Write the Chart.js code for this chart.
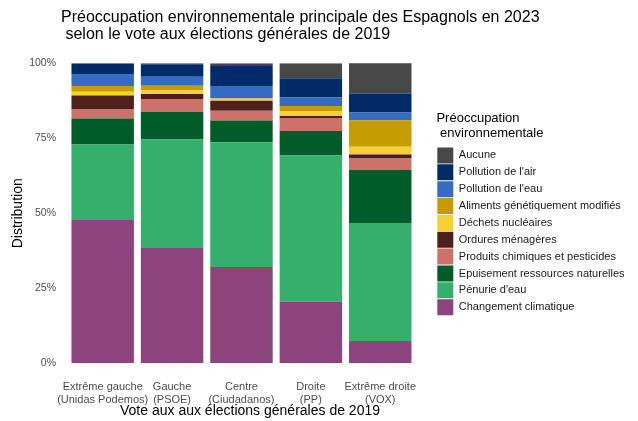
<!DOCTYPE html>
<html>
<head>
<meta charset="utf-8">
<script src="https://cdn.jsdelivr.net/npm/chart.js@4"></script>
<style>
html,body{margin:0;padding:0;background:#fff;}
#wrap{width:638px;height:421px;position:relative;}
</style>
</head>
<body>
<div id="wrap"><canvas id="c" width="638" height="421"></canvas></div>
<script>
// Categories (x axis)
const categories = [
  ["Extrême gauche", "(Unidas Podemos)"],
  ["Gauche", "(PSOE)"],
  ["Centre", "(Ciudadanos)"],
  ["Droite", "(PP)"],
  ["Extrême droite", "(VOX)"]
];
// Series values (% of each vote group), stacked bottom to top
const changementClimatique = [47.8, 38.4, 32.1, 20.5, 7.4];
const penurieEau           = [25.1, 36.2, 41.6, 48.8, 39.4];
const epuisementRessources = [8.7, 9.2, 7.2, 8.1, 17.7];
const produitsChimiques    = [3.0, 4.3, 3.3, 4.4, 3.8];
const orduresMenageres     = [4.7, 1.7, 3.3, 0.6, 1.3];
const dechetsNucleaires    = [1.2, 1.1, 0.8, 1.7, 2.6];
const alimentsOGM          = [1.9, 1.6, 0.0, 1.7, 8.8];
const pollutionEau         = [4.0, 3.0, 4.1, 2.8, 2.6];
const pollutionAir         = [3.6, 4.2, 6.7, 6.4, 6.3];
const aucune               = [0.0, 0.3, 0.9, 5.0, 10.2];
// Tick labels
const yTicks = [0, 25, 50, 75, 100];

const FONT = "'Liberation Sans', Arial, Helvetica, sans-serif";

const series = [
  ["Changement climatique", changementClimatique, "#8C447C"],
  ["Pénurie d'eau", penurieEau, "#34AF6C"],
  ["Epuisement ressources naturelles", epuisementRessources, "#005C29"],
  ["Produits chimiques et pesticides", produitsChimiques, "#CC7269"],
  ["Ordures ménagères", orduresMenageres, "#4F1F1C"],
  ["Déchets nucléaires", dechetsNucleaires, "#F5D033"],
  ["Aliments génétiquement modifiés", alimentsOGM, "#C59D00"],
  ["Pollution de l'eau", pollutionEau, "#346CC4"],
  ["Pollution de l'air", pollutionAir, "#002B69"],
  ["Aucune", aucune, "#474747"]
];

const datasets = series.map(([label, data, color]) => ({
  label, data, backgroundColor: color, borderWidth: 0,
  barPercentage: 0.9, categoryPercentage: 1.0, stack: "s"
}));

const titlePlugin = {
  id: "ggTitle",
  beforeLayout(chart) {
    const lg = chart.legend;
    if (lg && !lg.__patched) {
      const orig = lg.fit;
      lg.fit = function () { this.maxWidth = 1000; orig.call(this); };
      lg.__patched = true;
    }
  },
  afterDraw(chart) {
    const ctx = chart.ctx;
    ctx.save();
    ctx.fillStyle = "#000";
    ctx.font = "16px " + FONT;
    ctx.textAlign = "left";
    ctx.textBaseline = "middle";
    ctx.fillText("Préoccupation environnementale principale des Espagnols en 2023", 61, 18);
    ctx.fillText(" selon le vote aux élections générales de 2019", 61, 35);
    ctx.font = "14px " + FONT;
    ctx.textAlign = "center";
    ctx.fillText("Vote aux aux élections générales de 2019", 250, 411.5);
    ctx.restore();
  }
};

new Chart(document.getElementById("c"), {
  type: "bar",
  data: { labels: categories, datasets },
  options: {
    responsive: false,
    animation: false,
    devicePixelRatio: 1,
    layout: { padding: { top: 63.3, bottom: 0, left: 0, right: 3.5 } },
    plugins: {
      title: { display: false },
      tooltip: { enabled: false },
      legend: {
        position: "right",
        align: "start",
        reverse: true,
        title: {
          display: true,
          text: ["Préoccupation", " environnementale"],
          color: "#000",
          position: "start",
          font: { family: FONT, size: 13, lineHeight: 1.154 },
          padding: { top: 48.5, bottom: 19.8 }
        },
        labels: {
          boxWidth: 16,
          boxHeight: 16,
          padding: 0.86,
          color: "#1a1a1a",
          font: { family: FONT, size: 11 }
        }
      }
    },
    scales: {
      x: {
        stacked: true,
        afterFit: (s) => { s.height = 57.7; },
        grid: { display: false, drawTicks: false },
        border: { display: false },
        ticks: {
          color: "#4D4D4D",
          font: { family: FONT, size: 11, lineHeight: 1.18 },
          padding: 17.5,
          maxRotation: 0,
          autoSkip: false
        },
        title: { display: false }
      },
      y: {
        stacked: true,
        min: 0,
        max: 100,
        afterFit: (s) => { s.width = 68; },
        afterBuildTicks: (s) => { s.ticks = yTicks.map(v => ({ value: v })); },
        grid: { display: false, drawTicks: false },
        border: { display: false },
        ticks: {
          color: "#4D4D4D",
          font: { family: FONT, size: 10.5 },
          padding: 12,
          callback: (v) => v + "%"
        },
        title: {
          display: true,
          text: "Distribution",
          color: "#000",
          font: { family: FONT, size: 14, lineHeight: 1.2 },
          padding: { top: 9.6, bottom: 0 }
        }
      },
      gap: {
        type: "linear",
        position: "right",
        display: true,
        afterFit: (s) => { s.width = 21.5; },
        grid: { display: false, drawTicks: false },
        border: { display: false },
        ticks: { display: false }
      }
    }
  },
  plugins: [titlePlugin]
});
</script>
</body>
</html>
